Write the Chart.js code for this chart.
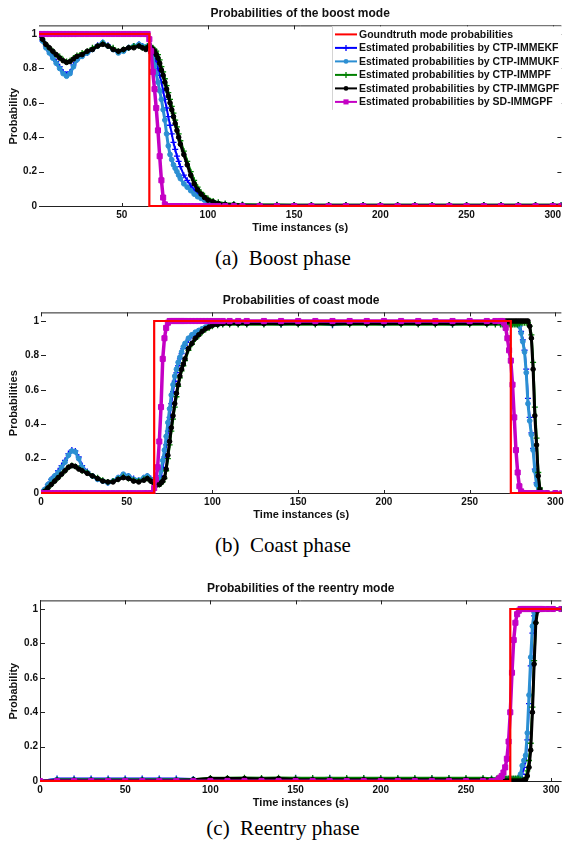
<!DOCTYPE html>
<html lang="en">
<head>
<meta charset="UTF-8">
<title>Mode probabilities</title>
<script src="https://cdn.jsdelivr.net/npm/chart.js"></script>
<style>
    body {
        margin: 0;
        background: #fff;
        width: 566px;
        height: 846px;
        position: relative;
        overflow: hidden;
    }
    .panel {
        position: absolute;
        left: 0;
        width: 566px;
        height: 240px;
    }
    .caption {
        position: absolute;
        left: 0;
        width: 566px;
        text-align: center;
        font-family: "Liberation Serif", "Times New Roman", serif;
        font-size: 21px;
        line-height: 24px;
        color: #000;
    }
</style>
</head>
<body>
<div class="panel" style="top:0px"><canvas id="boostChart" width="566" height="240"></canvas></div>
<div class="caption" style="top:246px">(a)&nbsp; Boost phase</div>
<div class="panel" style="top:287px"><canvas id="coastChart" width="566" height="240"></canvas></div>
<div class="caption" style="top:533px">(b)&nbsp; Coast phase</div>
<div class="panel" style="top:575px"><canvas id="reentryChart" width="566" height="240"></canvas></div>
<div class="caption" style="top:816px">(c)&nbsp; Reentry phase</div>

<script>
// ---- data ----
const seriesLabels = [
    'Goundtruth mode probabilities',
    'Estimated probabilities by CTP-IMMEKF',
    'Estimated probabilities by CTP-IMMUKF',
    'Estimated probabilities by CTP-IMMPF',
    'Estimated probabilities by CTP-IMMGPF',
    'Estimated probabilities by SD-IMMGPF'
];
const yTicks = [0, 0.2, 0.4, 0.6, 0.8, 1];
const xTicksBoost = [50, 100, 150, 200, 250, 300];
const xTicks = [0, 50, 100, 150, 200, 250, 300];

// boost mode
const tBoost = [2, 4, 6, 8, 10, 12, 14, 16, 18, 20, 22, 24,
    27, 30, 33, 36, 39, 42, 45, 48, 51, 54, 57, 60,
    62, 64,
    65, 66, 67, 68, 69, 70, 71, 72, 73, 74, 75, 76, 77, 78, 79, 80, 81, 82, 83, 84,
    86, 88, 90, 92, 94, 96, 98, 100,
    103, 106, 110, 115, 120,
    130, 140, 150, 160, 170, 180, 190, 200, 210, 220, 230, 240, 250, 260, 270, 280, 290, 300,
    305];
const gtBoost = [1, 1, 1, 1, 1, 1, 1, 1, 1, 1, 1, 1,
    1, 1, 1, 1, 1, 1, 1, 1, 1, 1, 1, 1,
    1, 1,
    1, 0, 0, 0, 0, 0, 0, 0, 0, 0, 0, 0, 0, 0, 0, 0, 0, 0, 0, 0,
    0, 0, 0, 0, 0, 0, 0, 0,
    0, 0, 0, 0, 0,
    0, 0, 0, 0, 0, 0, 0, 0, 0, 0, 0, 0, 0, 0, 0, 0, 0, 0,
    0];
const ekfBoost = [1.0, 0.96, 0.93, 0.9, 0.87, 0.84, 0.81, 0.78, 0.765, 0.78, 0.82, 0.85,
    0.875, 0.89, 0.915, 0.935, 0.95, 0.935, 0.915, 0.895, 0.905, 0.92, 0.93, 0.94,
    0.93, 0.92,
    0.93, 0.93, 0.92, 0.9, 0.87, 0.84, 0.8, 0.76, 0.72, 0.67, 0.62, 0.57, 0.52, 0.47, 0.42, 0.37, 0.33, 0.29, 0.26, 0.23,
    0.18, 0.15, 0.12, 0.095, 0.075, 0.055, 0.04, 0.03,
    0.02, 0.014, 0.01, 0.008, 0.007,
    0.006, 0.006, 0.006, 0.006, 0.006, 0.006, 0.006, 0.006, 0.006, 0.006, 0.006, 0.006, 0.006, 0.006, 0.006, 0.006, 0.006, 0.006,
    0.006];
const ukfBoost = [1.0, 0.96, 0.92, 0.89, 0.86, 0.83, 0.8, 0.77, 0.755, 0.77, 0.81, 0.85,
    0.87, 0.89, 0.91, 0.93, 0.95, 0.93, 0.91, 0.89, 0.9, 0.92, 0.93, 0.94,
    0.93, 0.92,
    0.93, 0.92, 0.9, 0.86, 0.82, 0.77, 0.72, 0.67, 0.62, 0.56, 0.5, 0.42, 0.35, 0.3, 0.27, 0.24, 0.22, 0.2, 0.18, 0.16,
    0.13, 0.11, 0.09, 0.07, 0.055, 0.045, 0.035, 0.025,
    0.018, 0.012, 0.008, 0.006, 0.005,
    0.004, 0.004, 0.004, 0.004, 0.004, 0.004, 0.004, 0.004, 0.004, 0.004, 0.004, 0.004, 0.004, 0.004, 0.004, 0.004, 0.004, 0.004,
    0.004];
const pfBoost = [1.0, 0.97, 0.94, 0.92, 0.9, 0.88, 0.87, 0.85, 0.84, 0.845, 0.86, 0.875,
    0.89, 0.9, 0.92, 0.93, 0.945, 0.93, 0.92, 0.9, 0.91, 0.92, 0.93, 0.93,
    0.92, 0.92,
    0.93, 0.93, 0.93, 0.92, 0.91, 0.9, 0.88, 0.85, 0.81, 0.78, 0.74, 0.7, 0.66, 0.62, 0.58, 0.54, 0.5, 0.46, 0.42, 0.38,
    0.32, 0.26, 0.2, 0.15, 0.11, 0.08, 0.06, 0.045,
    0.03, 0.022, 0.015, 0.012, 0.01,
    0.008, 0.008, 0.007, 0.007, 0.006, 0.006, 0.006, 0.006, 0.006, 0.006, 0.006, 0.006, 0.006, 0.006, 0.006, 0.006, 0.006, 0.006,
    0.006];
const gpfBoost = [1.0, 0.97, 0.94, 0.92, 0.9, 0.88, 0.86, 0.845, 0.835, 0.84, 0.855, 0.87,
    0.88, 0.9, 0.91, 0.93, 0.94, 0.93, 0.91, 0.9, 0.91, 0.92, 0.92, 0.93,
    0.92, 0.91,
    0.92, 0.93, 0.92, 0.91, 0.9, 0.88, 0.86, 0.83, 0.79, 0.76, 0.72, 0.68, 0.64, 0.6, 0.56, 0.52, 0.48, 0.44, 0.4, 0.36,
    0.3, 0.24, 0.18, 0.13, 0.095, 0.07, 0.05, 0.035,
    0.025, 0.015, 0.01, 0.008, 0.006,
    0.005, 0.005, 0.005, 0.005, 0.005, 0.005, 0.005, 0.005, 0.005, 0.005, 0.005, 0.005, 0.005, 0.005, 0.005, 0.005, 0.005, 0.005,
    0.005];
const sdBoost = [1, 1, 1, 1, 1, 1, 1, 1, 1, 1, 1, 1,
    1, 1, 1, 1, 1, 1, 1, 1, 1, 1, 1, 1,
    1, 1,
    1, 0.97, 0.9, 0.78, 0.68, 0.57, 0.44, 0.29, 0.15, 0.05, 0.01, 0, 0, 0, 0, 0, 0, 0, 0, 0,
    0, 0, 0, 0, 0, 0, 0, 0,
    0, 0, 0, 0, 0,
    0, 0, 0, 0, 0, 0, 0, 0, 0, 0, 0, 0, 0, 0, 0, 0, 0, 0,
    0];

// coast mode
const tCoast = [0, 2, 4, 6, 8, 10, 12, 14, 16, 18, 20, 22, 24,
    27, 30, 33, 36, 39, 42, 45, 48, 51, 54, 57, 60,
    62, 64, 65,
    66, 67, 68, 69, 70, 71, 72, 73, 74, 75, 76, 77, 78, 79, 80, 81, 82, 83, 84,
    86, 88, 90, 92, 94, 96, 98, 100,
    103, 106, 110, 115, 120,
    130, 140, 150, 160, 170, 180, 190, 200, 210, 220, 230, 240, 250, 260, 265, 268,
    269, 270, 271, 272, 273, 274, 275, 276, 277, 278, 279, 280, 281, 282, 283, 284, 285, 286, 287, 288, 289, 290, 291, 292,
    295, 300, 304];
const gtCoast = [0, 0, 0, 0, 0, 0, 0, 0, 0, 0, 0, 0, 0,
    0, 0, 0, 0, 0, 0, 0, 0, 0, 0, 0, 0,
    0, 0, 0,
    1, 1, 1, 1, 1, 1, 1, 1, 1, 1, 1, 1, 1, 1, 1, 1, 1, 1, 1,
    1, 1, 1, 1, 1, 1, 1, 1,
    1, 1, 1, 1, 1,
    1, 1, 1, 1, 1, 1, 1, 1, 1, 1, 1, 1, 1, 1, 1, 1,
    1, 1, 1, 1, 1, 0, 0, 0, 0, 0, 0, 0, 0, 0, 0, 0, 0, 0, 0, 0, 0, 0, 0, 0,
    0, 0, 0];
const ekfCoast = [0, 0.02, 0.05, 0.08, 0.1, 0.13, 0.16, 0.19, 0.23, 0.25, 0.245, 0.21, 0.16,
    0.125, 0.1, 0.085, 0.07, 0.06, 0.07, 0.09, 0.105, 0.1, 0.085, 0.075, 0.09,
    0.1, 0.085, 0.075,
    0.07, 0.065, 0.06, 0.07, 0.1, 0.15, 0.21, 0.28, 0.36, 0.44, 0.52, 0.59, 0.65, 0.7, 0.74, 0.78, 0.81, 0.84, 0.86,
    0.89, 0.915, 0.93, 0.94, 0.95, 0.96, 0.97, 0.975,
    0.98, 0.985, 0.985, 0.985, 0.985,
    0.985, 0.98, 0.985, 0.985, 0.975, 0.985, 0.985, 0.98, 0.985, 0.985, 0.985, 0.98, 0.985, 0.985, 0.985, 0.985,
    0.985, 0.985, 0.985, 0.985, 0.985, 0.985, 0.985, 0.985, 0.985, 0.98, 0.97, 0.94, 0.89, 0.83, 0.72, 0.55, 0.44, 0.35, 0.26, 0.14, 0.06, 0.015, 0, 0,
    0, 0, 0];
const ukfCoast = [0, 0.02, 0.05, 0.08, 0.1, 0.12, 0.15, 0.18, 0.22, 0.245, 0.24, 0.2, 0.15,
    0.12, 0.1, 0.08, 0.07, 0.06, 0.07, 0.09, 0.11, 0.1, 0.08, 0.075, 0.09,
    0.1, 0.08, 0.075,
    0.07, 0.065, 0.06, 0.08, 0.13, 0.19, 0.25, 0.33, 0.41, 0.49, 0.57, 0.63, 0.68, 0.72, 0.76, 0.79, 0.82, 0.85, 0.87,
    0.9, 0.92, 0.935, 0.945, 0.955, 0.965, 0.975, 0.98,
    0.985, 0.988, 0.99, 0.99, 0.99,
    0.99, 0.988, 0.99, 0.992, 0.99, 0.988, 0.99, 0.99, 0.992, 0.99, 0.99, 0.988, 0.99, 0.99, 0.99, 0.99,
    0.99, 0.99, 0.99, 0.99, 0.99, 0.99, 0.99, 0.99, 0.99, 0.98, 0.97, 0.93, 0.88, 0.82, 0.7, 0.52, 0.42, 0.34, 0.25, 0.13, 0.05, 0.01, 0, 0,
    0, 0, 0];
const pfCoast = [0, 0.01, 0.03, 0.05, 0.07, 0.09, 0.11, 0.13, 0.15, 0.16, 0.155, 0.145, 0.13,
    0.12, 0.1, 0.09, 0.075, 0.065, 0.07, 0.08, 0.095, 0.085, 0.075, 0.07, 0.08,
    0.085, 0.075, 0.065,
    0.06, 0.055, 0.05, 0.05, 0.055, 0.065, 0.085, 0.13, 0.2, 0.28, 0.36, 0.43, 0.5, 0.56, 0.62, 0.67, 0.71, 0.74, 0.77,
    0.83, 0.865, 0.895, 0.915, 0.935, 0.95, 0.96, 0.97,
    0.975, 0.98, 0.98, 0.98, 0.98,
    0.98, 0.98, 0.98, 0.98, 0.98, 0.98, 0.98, 0.98, 0.98, 0.98, 0.98, 0.98, 0.98, 0.98, 0.98, 0.98,
    0.98, 0.98, 0.98, 0.98, 0.98, 0.98, 0.98, 0.98, 0.98, 0.98, 0.985, 0.99, 0.99, 0.99, 0.99, 0.99, 0.97, 0.92, 0.76, 0.5, 0.32, 0.12, 0.03, 0,
    0, 0, 0];
const gpfCoast = [0, 0.01, 0.03, 0.05, 0.07, 0.09, 0.11, 0.13, 0.15, 0.16, 0.155, 0.14, 0.13,
    0.115, 0.1, 0.085, 0.07, 0.065, 0.065, 0.08, 0.09, 0.085, 0.07, 0.065, 0.075,
    0.085, 0.07, 0.065,
    0.06, 0.05, 0.05, 0.05, 0.06, 0.07, 0.09, 0.14, 0.22, 0.3, 0.38, 0.45, 0.52, 0.58, 0.63, 0.68, 0.72, 0.75, 0.78,
    0.84, 0.87, 0.9, 0.92, 0.94, 0.955, 0.965, 0.975,
    0.98, 0.985, 0.985, 0.985, 0.985,
    0.985, 0.985, 0.985, 0.985, 0.985, 0.985, 0.985, 0.985, 0.985, 0.985, 0.985, 0.985, 0.985, 0.985, 0.99, 0.995,
    0.995, 0.997, 1, 1, 1, 1, 1, 1, 1, 1, 1, 1, 1, 1, 1, 1, 0.97, 0.9, 0.72, 0.45, 0.28, 0.1, 0.02, 0,
    0, 0, 0];
const sdCoast = [0, 0, 0, 0, 0, 0, 0, 0, 0, 0, 0, 0, 0,
    0, 0, 0, 0, 0, 0, 0, 0, 0, 0, 0, 0,
    0, 0, 0,
    0.03, 0.08, 0.15, 0.3, 0.5, 0.78, 0.9, 0.96, 0.99, 1, 1, 1, 1, 1, 1, 1, 1, 1, 1,
    1, 1, 1, 1, 1, 1, 1, 1,
    1, 1, 1, 1, 1,
    1, 1, 1, 1, 1, 1, 1, 1, 1, 1, 1, 1, 1, 1, 1, 1,
    1, 0.99, 0.96, 0.9, 0.83, 0.77, 0.63, 0.44, 0.25, 0.12, 0.04, 0.01, 0, 0, 0, 0, 0, 0, 0, 0, 0, 0, 0, 0,
    0, 0, 0];

// reentry mode
const tReentry = [0, 10, 20, 30, 40, 50, 60, 70, 80, 90, 100, 110, 120, 130, 140, 150, 160, 170, 180, 190, 200, 210, 220, 230, 240, 250, 260,
    265, 268,
    269, 270, 271, 272, 273, 274, 275, 276, 277, 278, 279, 280, 281, 282, 283, 284, 285, 286, 287, 288, 289, 290, 291, 292, 293, 294, 295,
    298, 301, 306];
const gtReentry = [0, 0, 0, 0, 0, 0, 0, 0, 0, 0, 0, 0, 0, 0, 0, 0, 0, 0, 0, 0, 0, 0, 0, 0, 0, 0, 0,
    0, 0,
    0, 0, 0, 0, 0, 0, 0, 1, 1, 1, 1, 1, 1, 1, 1, 1, 1, 1, 1, 1, 1, 1, 1, 1, 1, 1, 1,
    1, 1, 1];
const ekfReentry = [0, 0.015, 0.015, 0.015, 0.015, 0.015, 0.015, 0.015, 0.015, 0.012, 0.012, 0.012, 0.012, 0.012, 0.012, 0.02, 0.015, 0.02, 0.012, 0.015, 0.012, 0.012, 0.012, 0.015, 0.015, 0.012, 0.012,
    0.012, 0.012,
    0.012, 0.012, 0.012, 0.012, 0.012, 0.012, 0.012, 0.012, 0.012, 0.012, 0.012, 0.012, 0.012, 0.02, 0.04, 0.08, 0.12, 0.24, 0.45, 0.67, 0.86, 0.96, 0.99, 1, 1, 1, 1,
    1, 1, 1];
const ukfReentry = [0, 0.01, 0.01, 0.01, 0.01, 0.01, 0.01, 0.01, 0.01, 0.01, 0.01, 0.01, 0.01, 0.01, 0.01, 0.01, 0.01, 0.01, 0.01, 0.01, 0.01, 0.01, 0.01, 0.01, 0.01, 0.01, 0.01,
    0.01, 0.01,
    0.01, 0.01, 0.01, 0.01, 0.01, 0.01, 0.01, 0.01, 0.01, 0.01, 0.01, 0.01, 0.02, 0.04, 0.09, 0.12, 0.15, 0.28, 0.5, 0.72, 0.9, 0.98, 1, 1, 1, 1, 1,
    1, 1, 1];
const pfReentry = [0, 0.008, 0.008, 0.008, 0.008, 0.008, 0.008, 0.008, 0.008, 0.01, 0.018, 0.018, 0.02, 0.018, 0.02, 0.018, 0.018, 0.018, 0.018, 0.018, 0.018, 0.018, 0.018, 0.018, 0.018, 0.018, 0.018,
    0.015, 0.015,
    0.015, 0.015, 0.015, 0.015, 0.015, 0.015, 0.015, 0.015, 0.015, 0.015, 0.015, 0.015, 0.015, 0.01, 0.008, 0.008, 0.015, 0.06, 0.12, 0.22, 0.43, 0.7, 0.92, 0.99, 1, 1, 1,
    1, 1, 1];
const gpfReentry = [0, 0.005, 0.005, 0.005, 0.005, 0.005, 0.005, 0.005, 0.005, 0.008, 0.015, 0.015, 0.015, 0.012, 0.015, 0.01, 0.008, 0.008, 0.008, 0.008, 0.008, 0.008, 0.008, 0.008, 0.008, 0.008, 0.008,
    0.006, 0.004,
    0.002, 0.001, 0, 0, 0, 0, 0, 0, 0, 0, 0, 0, 0, 0, 0, 0.005, 0.01, 0.03, 0.08, 0.18, 0.4, 0.68, 0.92, 0.99, 1, 1, 1,
    1, 1, 1];
const sdReentry = [0, 0, 0, 0, 0, 0, 0, 0, 0, 0, 0, 0, 0, 0, 0, 0, 0, 0, 0, 0, 0, 0, 0, 0, 0, 0, 0,
    0, 0,
    0.01, 0.02, 0.03, 0.05, 0.08, 0.13, 0.23, 0.4, 0.63, 0.82, 0.92, 0.97, 0.99, 1, 1, 1, 1, 1, 1, 1, 1, 1, 1, 1, 1, 1, 1,
    1, 1, 1];

// ---- styling ----
const FONT = '"Liberation Sans", Arial, Helvetica, sans-serif';
const seriesStyles = [
    { borderColor: '#ff0000', backgroundColor: '#ff0000', borderWidth: 2.2, pointRadius: 0, pointStyle: false, stepped: 'before', order: 0 },
    { borderColor: '#0000ff', backgroundColor: '#0000ff', borderWidth: 2, pointStyle: 'cross', pointRadius: 3, pointBorderWidth: 1.3, order: 5 },
    { borderColor: '#2c8fd3', backgroundColor: '#2c8fd3', borderWidth: 3, pointStyle: 'circle', pointRadius: 2.4, pointBorderWidth: 1, order: 4 },
    { borderColor: '#008000', backgroundColor: '#008000', borderWidth: 2.5, pointStyle: 'cross', pointRadius: 3, pointBorderWidth: 1.3, order: 3 },
    { borderColor: '#000000', backgroundColor: '#000000', borderWidth: 3, pointStyle: 'circle', pointRadius: 2.3, pointBorderWidth: 1, order: 2 },
    { borderColor: '#c400c4', backgroundColor: '#c400c4', borderWidth: 3.5, pointStyle: 'rect', pointRadius: 3.6, pointBorderWidth: 1, order: 1 }
];

function checkLengths(t, list) {
    list.forEach((arr, i) => {
        if (arr.length !== t.length) throw new Error('series ' + i + ' has ' + arr.length + ' values, expected ' + t.length);
    });
}

function drawMarker(ctx, style, x, y, r, color) {
    ctx.fillStyle = color;
    ctx.strokeStyle = color;
    ctx.lineWidth = 1.3;
    ctx.beginPath();
    if (style === 'circle') {
        ctx.arc(x, y, r, 0, Math.PI * 2);
        ctx.fill();
    } else if (style === 'rect') {
        const s = r * Math.SQRT1_2;
        ctx.fillRect(x - s, y - s, 2 * s, 2 * s);
    } else if (style === 'cross') {
        ctx.moveTo(x - r, y); ctx.lineTo(x + r, y);
        ctx.moveTo(x, y - r); ctx.lineTo(x, y + r);
        ctx.stroke();
    }
}

// axes box with inward ticks, like the original plot
const framePlugin = {
    id: 'frame',
    beforeDatasetsDraw(chart, args, opts) {
        const { ctx, chartArea: a, scales: { x, y } } = chart;
        ctx.save();
        ctx.strokeStyle = '#222';
        ctx.lineWidth = 1;
        ctx.beginPath();
        ctx.moveTo(a.left, a.top + 0.5); ctx.lineTo(a.right, a.top + 0.5);
        ctx.moveTo(a.left, a.bottom - 0.5); ctx.lineTo(a.right, a.bottom - 0.5);
        if (opts.leftLine) { ctx.moveTo(a.left + 0.5, a.top); ctx.lineTo(a.left + 0.5, a.bottom); }
        x.ticks.forEach(t => {
            const px = Math.round(x.getPixelForValue(t.value)) + 0.5;
            ctx.moveTo(px, a.top); ctx.lineTo(px, a.top + 4);
            ctx.moveTo(px, a.bottom); ctx.lineTo(px, a.bottom - 4);
        });
        y.ticks.forEach(t => {
            const py = Math.round(y.getPixelForValue(t.value)) + 0.5;
            ctx.moveTo(a.left, py); ctx.lineTo(a.left + 5, py);
            ctx.moveTo(a.right, py); ctx.lineTo(a.right - 4, py);
        });
        ctx.stroke();
        ctx.restore();
    }
};

// legend drawn inside the plot area (top right)
const insideLegend = {
    id: 'insideLegend',
    afterDraw(chart, args, opts) {
        if (!opts.show) return;
        const { ctx, chartArea: a } = chart;
        const sets = chart.data.datasets;
        const left = opts.left;
        const h = 9 + 13.5 * (sets.length - 1) + 8;
        ctx.save();
        ctx.fillStyle = '#fff';
        ctx.fillRect(left, a.top + 1, a.right - left, h);
        ctx.strokeStyle = '#d4d4d4';
        ctx.lineWidth = 1;
        ctx.beginPath();
        ctx.moveTo(left + 0.5, a.top + 1); ctx.lineTo(left + 0.5, a.top + h);
        ctx.stroke();
        ctx.font = 'bold 10.5px ' + FONT;
        ctx.textBaseline = 'middle';
        sets.forEach((ds, i) => {
            const cy = a.top + 9 + 13.5 * i;
            ctx.strokeStyle = ds.borderColor;
            ctx.lineWidth = 2;
            ctx.beginPath();
            ctx.moveTo(left + 3, cy); ctx.lineTo(left + 25, cy);
            ctx.stroke();
            if (ds.pointStyle) drawMarker(ctx, ds.pointStyle, left + 14, cy, ds.pointRadius, ds.borderColor);
            ctx.fillStyle = '#111';
            ctx.fillText(ds.label, left + 27, cy + 0.5);
        });
        ctx.restore();
    }
};

function makeChart(id, cfg) {
    checkLengths(cfg.t, cfg.values);
    const datasets = cfg.values.map((vals, i) => Object.assign({
        label: seriesLabels[i],
        data: cfg.t.map((x, k) => ({ x: x, y: vals[k] })),
        tension: 0,
        pointHoverRadius: 0
    }, seriesStyles[i]));

    return new Chart(document.getElementById(id), {
        type: 'line',
        data: { datasets: datasets },
        options: {
            responsive: false,
            animation: false,
            devicePixelRatio: 1,
            layout: { padding: { top: 0, left: 0, right: 0, bottom: 5 } },
            plugins: {
                legend: { display: false },
                tooltip: { enabled: false },
                title: {
                    display: true,
                    text: cfg.title,
                    fullSize: false,
                    color: '#111',
                    font: { family: FONT, size: 12, weight: 'bold' },
                    padding: { top: 6, bottom: 5 }
                },
                frame: { leftLine: cfg.leftLine },
                insideLegend: { show: cfg.legend, left: 332 }
            },
            scales: {
                x: {
                    type: 'linear',
                    min: cfg.xMin,
                    max: cfg.xMax,
                    grid: { display: false, drawTicks: false },
                    border: { display: false },
                    afterBuildTicks: s => { s.ticks = cfg.xTicks.map(v => ({ value: v })); },
                    afterFit: s => { s.height = 28; s.paddingLeft = 0; s.paddingRight = 0; },
                    ticks: {
                        autoSkip: false,
                        maxRotation: 0,
                        padding: 2,
                        color: '#111',
                        font: { family: FONT, size: 10, weight: 'bold' },
                        callback: v => String(v)
                    },
                    title: {
                        display: true,
                        text: 'Time instances (s)',
                        color: '#111',
                        font: { family: FONT, size: 11, weight: 'bold' },
                        padding: { top: 0, bottom: 0 }
                    }
                },
                y: {
                    type: 'linear',
                    min: -0.005,
                    max: 1.05,
                    grid: { display: false, drawTicks: false },
                    border: { display: false },
                    afterBuildTicks: s => { s.ticks = yTicks.map(v => ({ value: v })); },
                    afterFit: s => { s.width = cfg.yWidth; s.paddingTop = 0; s.paddingBottom = 0; },
                    ticks: {
                        autoSkip: false,
                        padding: 2,
                        color: '#111',
                        font: { family: FONT, size: 10, weight: 'bold' },
                        callback: v => String(Math.round(v * 10) / 10)
                    },
                    title: {
                        display: true,
                        text: cfg.yTitle,
                        color: '#111',
                        font: { family: FONT, size: 11, weight: 'bold' },
                        padding: { top: 7, bottom: 0 }
                    }
                }
            }
        },
        plugins: [framePlugin, insideLegend]
    });
}

makeChart('boostChart', {
    title: 'Probabilities of the boost mode',
    yTitle: 'Probability',
    t: tBoost,
    values: [gtBoost, ekfBoost, ukfBoost, pfBoost, gpfBoost, sdBoost],
    xMin: 2, xMax: 305, xTicks: xTicksBoost,
    yWidth: 39, legend: true, leftLine: false
});

makeChart('coastChart', {
    title: 'Probabilities of coast mode',
    yTitle: 'Probabilities',
    t: tCoast,
    values: [gtCoast, ekfCoast, ukfCoast, pfCoast, gpfCoast, sdCoast],
    xMin: 0, xMax: 303.5, xTicks: xTicks,
    yWidth: 41, legend: false, leftLine: false
});

makeChart('reentryChart', {
    title: 'Probabilities of the reentry mode',
    yTitle: 'Probability',
    t: tReentry,
    values: [gtReentry, ekfReentry, ukfReentry, pfReentry, gpfReentry, sdReentry],
    xMin: 0, xMax: 306, xTicks: xTicks,
    yWidth: 40, legend: false, leftLine: true
});
</script>
</body>
</html>
